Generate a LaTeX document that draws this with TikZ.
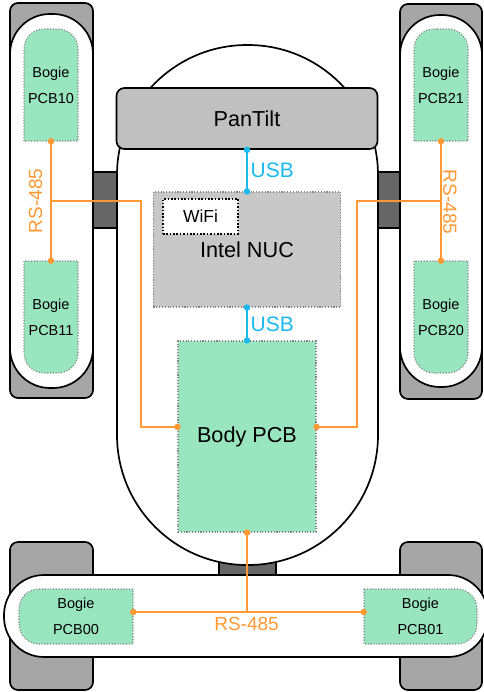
\documentclass[tikz,border=0pt]{standalone}
\usepackage{fontspec}
\setmainfont{Liberation Sans}
\usepackage{tikz}
\usetikzlibrary{arrows.meta,positioning,calc}
\definecolor{botgreen}{HTML}{99E5BF}
\definecolor{botedge}{HTML}{858585}
\definecolor{botgray}{HTML}{A6A6A6}
\definecolor{botdark}{HTML}{666666}
\definecolor{botpan}{HTML}{C0C0C0}
\definecolor{botnuc}{HTML}{C8C8C8}
\definecolor{botorange}{HTML}{FF9933}
\definecolor{botblue}{HTML}{1AB9F0}

\begin{document}
\begin{tikzpicture}[x=0.025cm,y=-0.025cm,
  hull/.style={draw=black, line width=1.2pt},
  pcb/.style={fill=botgreen, draw=botedge, line width=0.8pt, dash pattern=on 0.8pt off 1.2pt},
  board/.style={inner sep=0pt, align=center, font=\fontsize{10.3}{18.5}\selectfont},
  bigtext/.style={inner sep=0pt, font=\fontsize{15.4}{18}\selectfont},
  rs/.style={draw=botorange, line width=1.3pt},
  usb/.style={draw=botblue, line width=1.3pt},
  rslabel/.style={font=\fontsize{13.5}{16}\selectfont, text=botorange, inner sep=0pt},
  usblabel/.style={font=\fontsize{14.9}{18}\selectfont, text=botblue, inner sep=2pt}]
  \useasboundingbox (0,0) rectangle (484,692);
  \clip (0,0) rectangle (484,692);

  % Axle blocks
  \draw[hull, fill=botdark] (93,172) rectangle (118,228);
  \draw[hull, fill=botdark] (377,172) rectangle (401,228);
  \draw[hull, fill=botdark] (219,540) rectangle (276,576);

  % Tracks
  \draw[hull, fill=botgray, rounded corners=0.2cm] (10,3) rectangle (93,398);
  \draw[hull, fill=botgray, rounded corners=0.2cm] (400,4) rectangle (482,399);
  \draw[hull, fill=botgray, rounded corners=0.2cm] (10,542) rectangle (93,690);
  \draw[hull, fill=botgray, rounded corners=0.2cm] (400,542) rectangle (482,690);
  \draw[hull, fill=white, rounded corners=1cm] (10,14) rectangle (93,388);
  \draw[hull, fill=white, rounded corners=1cm] (400,15) rectangle (482,387);
  \draw[hull, fill=white, rounded corners=1cm] (4,575) rectangle (488,657);

  % Body
  \draw[hull, fill=white, rounded corners=3.25cm] (117,45) rectangle (378,565);

  % Head and computer
  \node[bigtext, hull, fill=botpan, rounded corners=0.2cm, minimum width=6.525cm, minimum height=1.525cm] (pantilt) at (247,118.5) {PanTilt};
  \node[bigtext, fill=botnuc, draw=botedge, line width=0.8pt, dash pattern=on 0.8pt off 1.2pt, minimum width=4.675cm, minimum height=2.875cm] (nuc) at (247,249.5) {Intel NUC};
  \node[inner sep=0pt, font=\fontsize{12.4}{15}\selectfont, fill=white, draw=black, line width=1.1pt, dash pattern=on 1.1pt off 1.3pt, minimum width=1.875cm, minimum height=0.875cm] (wifi) at (200.5,216.5) {WiFi};
  \node[bigtext, pcb, minimum width=3.45cm, minimum height=4.775cm] (bodypcb) at (247,436.5) {Body PCB};

  % Bogie boards
  \draw[pcb] (24,141) -- (24,49) arc[start angle=180, end angle=90, radius=0.5cm] -- (58,29) arc[start angle=90, end angle=0, radius=0.5cm] -- (78,141) -- cycle;
  \draw[pcb] (24,261) -- (24,353) arc[start angle=180, end angle=270, radius=0.5cm] -- (58,373) arc[start angle=270, end angle=360, radius=0.5cm] -- (78,261) -- cycle;
  \draw[pcb] (414,141) -- (414,49) arc[start angle=180, end angle=90, radius=0.5cm] -- (448,29) arc[start angle=90, end angle=0, radius=0.5cm] -- (468,141) -- cycle;
  \draw[pcb] (414,261) -- (414,353) arc[start angle=180, end angle=270, radius=0.5cm] -- (448,373) arc[start angle=270, end angle=360, radius=0.5cm] -- (468,261) -- cycle;
  \draw[pcb] (133,589) -- (39,589) arc[start angle=90, end angle=180, radius=0.5cm] -- (19,624) arc[start angle=180, end angle=270, radius=0.5cm] -- (133,644) -- cycle;
  \draw[pcb] (364,589) -- (457,589) arc[start angle=90, end angle=0, radius=0.5cm] -- (477,624) arc[start angle=0, end angle=-90, radius=0.5cm] -- (364,644) -- cycle;

  \node[board, minimum width=1.35cm, minimum height=2.8cm] (b10) at (51,85) {Bogie\\PCB10};
  \node[board, minimum width=1.35cm, minimum height=2.8cm] (b11) at (51,317) {Bogie\\PCB11};
  \node[board, minimum width=1.35cm, minimum height=2.8cm] (b21) at (441,85) {Bogie\\PCB21};
  \node[board, minimum width=1.35cm, minimum height=2.8cm] (b20) at (441,317) {Bogie\\PCB20};
  \node[board, minimum width=2.85cm, minimum height=1.375cm] (b00) at (76,616.5) {Bogie\\PCB00};
  \node[board, minimum width=2.825cm, minimum height=1.375cm] (b01) at (420.5,616.5) {Bogie\\PCB01};

  % USB links
  \draw[usb] (pantilt.south) -- node[usblabel, right] (usb1) {USB} (nuc.north);
  \draw[usb] (nuc.south) -- node[usblabel, right] (usb2) {USB} (bodypcb.north);
  \fill[botblue] (pantilt.south) circle[radius=2.3pt];
  \fill[botblue] (nuc.north) circle[radius=2.3pt];
  \fill[botblue] (nuc.south) circle[radius=2.3pt];
  \fill[botblue] (bodypcb.north) circle[radius=2.3pt];

  % RS-485 bus
  \coordinate (ljoin) at ($(b10.south)!0.5!(b11.north)$);
  \coordinate (rjoin) at ($(b21.south)!0.5!(b20.north)$);
  \coordinate (lport) at ($(bodypcb.north west)!0.45!(bodypcb.south west)$);
  \coordinate (rport) at ($(bodypcb.north east)!0.45!(bodypcb.south east)$);
  \coordinate (b00port) at ($(b00.north east)!0.42!(b00.south east)$);
  \coordinate (b01port) at ($(b01.north west)!0.42!(b01.south west)$);

  \draw[rs] (b10.south) -- (b11.north);
  \draw[rs] (ljoin) -- ++(90,0) |- (lport);
  \draw[rs] (b21.south) -- (b20.north);
  \draw[rs] (rjoin) -- ++(-84,0) |- (rport);
  \draw[rs] (b00port) -- (b01port);
  \draw[rs] (bodypcb.south) -- (bodypcb.south |- b00port);

  \fill[botorange] (b10.south) circle[radius=2.3pt];
  \fill[botorange] (b11.north) circle[radius=2.3pt];
  \fill[botorange] (b21.south) circle[radius=2.3pt];
  \fill[botorange] (b20.north) circle[radius=2.3pt];
  \fill[botorange] (lport) circle[radius=2.3pt];
  \fill[botorange] (rport) circle[radius=2.3pt];
  \fill[botorange] (bodypcb.south) circle[radius=2.3pt];
  \fill[botorange] (b00port) circle[radius=2.3pt];
  \fill[botorange] (b01port) circle[radius=2.3pt];

  \node[rslabel, rotate=90] (rsleft) at (35.5,201) {RS-485};
  \node[rslabel, rotate=-90] (rsright) at (450,202) {RS-485};
  \node[rslabel] (rsbottom) at (246.5,624) {RS-485};
\end{tikzpicture}
\end{document}
